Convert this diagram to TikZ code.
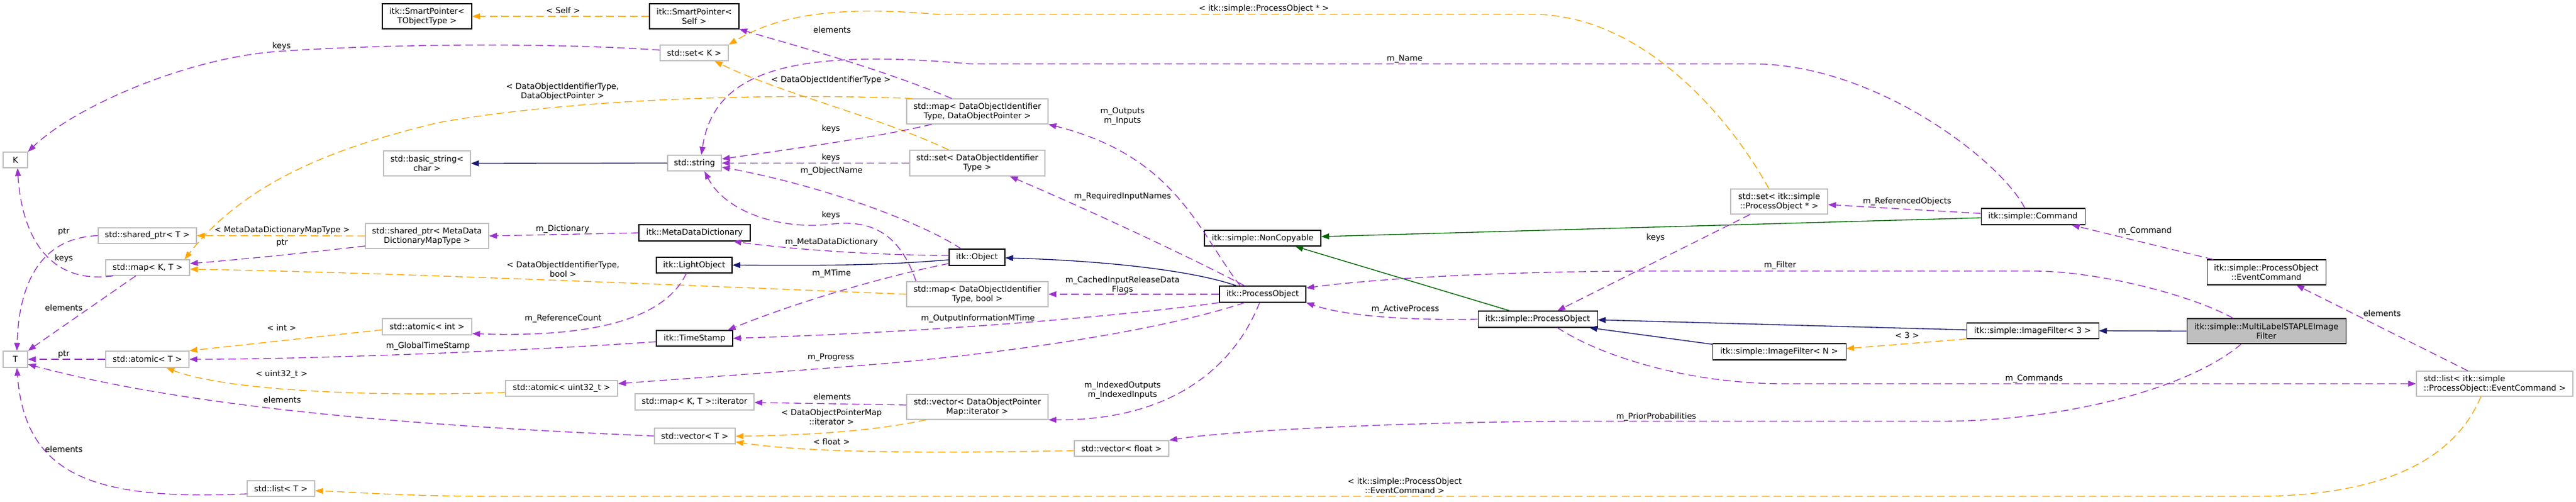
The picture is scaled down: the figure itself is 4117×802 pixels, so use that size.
\documentclass[tikz,border=0pt]{standalone}
\usepackage{fontspec}
\setmainfont{DejaVu Sans}
\usetikzlibrary{arrows.meta,calc}
\definecolor{epurple}{HTML}{9A32CD}
\definecolor{eorange}{HTML}{FFA500}
\definecolor{enavy}{HTML}{191970}
\definecolor{egreen}{HTML}{006400}
\definecolor{gborder}{HTML}{BFBFBF}
\definecolor{mlfill}{HTML}{BFBFBF}
\newcommand\ubox[7]{\node[#1, minimum width={(#5-#3)*0.75pt}, minimum height={(#6-#4)*0.75pt}] (#2) at ({(#3+#5)/2},{(#4+#6)/2}) {#7};}
\tikzset{
  cls/.style={draw=black, line width=0.8pt, fill=white, inner sep=0pt, align=center},
  ext/.style={draw=gborder, line width=1pt, fill=white, inner sep=0pt, align=center},
  tip/.style={-{Triangle[length=9.5pt,width=7pt]}},
  pe/.style={draw=epurple, line width=1pt, dash pattern=on 9pt off 5pt, tip},
  oe/.style={draw=eorange, line width=1pt, dash pattern=on 9pt off 5pt, tip},
  ne/.style={draw=enavy, line width=1pt, tip},
  ge/.style={draw=egreen, line width=1pt, tip},
  lbl/.style={inner sep=0pt, align=center}
}
\begin{document}
\begin{tikzpicture}[x=0.75pt, y=-0.75pt, font=\fontsize{9.7}{11.25}\selectfont]
\fill[white] (0,0) rectangle (4117,802);
\useasboundingbox (0,0) rectangle (4117,802);
% nodes
\ubox{ext}{K}{5}{243}{44}{268}{K}
\ubox{ext}{T}{5}{561}{44}{587}{T}
\ubox{ext}{sharedT}{157}{364}{314}{389}{std::shared\_ptr< T >}
\ubox{ext}{mapKT}{169}{415}{303}{440}{std::map< K, T >}
\ubox{ext}{atomicT}{169}{561}{302}{587}{std::atomic< T >}
\ubox{ext}{listT}{395}{768}{503}{793}{std::list< T >}
\ubox{cls}{spTObj}{611}{6}{754}{46}{itk::SmartPointer<\\TObjectType >}
\ubox{ext}{basicstr}{613}{241}{752}{281}{std::basic\_string<\\char >}
\ubox{ext}{sharedMDD}{584}{357}{781}{397}{std::shared\_ptr< MetaData\\DictionaryMapType >}
\ubox{ext}{atomicInt}{611}{509}{754}{535}{std::atomic< int >}
\ubox{cls}{spSelf}{1038}{6}{1181}{46}{itk::SmartPointer<\\Self >}
\ubox{ext}{setK}{1055}{72}{1164}{97}{std::set< K >}
\ubox{ext}{string}{1067}{248}{1153}{273}{std::string}
\ubox{cls}{MDD}{1021}{359}{1199}{385}{itk::MetaDataDictionary}
\ubox{cls}{Light}{1049}{411}{1170}{436}{itk::LightObject}
\ubox{cls}{TimeStamp}{1049}{528}{1171}{553}{itk::TimeStamp}
\ubox{ext}{atomicU32}{808}{608}{987}{633}{std::atomic< uint32\_t >}
\ubox{ext}{mapIter}{1015}{629}{1205}{655}{std::map< K, T >::iterator}
\ubox{ext}{vectorT}{1046}{684}{1175}{709}{std::vector< T >}
\ubox{ext}{mapDOP}{1449}{158}{1675}{198}{std::map< DataObjectIdentifier\\Type, DataObjectPointer >}
\ubox{ext}{setDOI}{1454}{240}{1670}{281}{std::set< DataObjectIdentifier\\Type >}
\ubox{cls}{NonCopy}{1925}{368}{2111}{393}{itk::simple::NonCopyable}
\ubox{cls}{Object}{1517}{398}{1606}{424}{itk::Object}
\ubox{ext}{mapDOB}{1449}{450}{1675}{490}{std::map< DataObjectIdentifier\\Type, bool >}
\ubox{cls}{PO}{1949}{457}{2087}{483}{itk::ProcessObject}
\ubox{ext}{vecDOPM}{1449}{630}{1675}{670}{std::vector< DataObjectPointer\\Map::iterator >}
\ubox{ext}{vecFloat}{1717}{704}{1868}{729}{std::vector< float >}
\ubox{ext}{setPO}{2766}{302}{2921}{342}{std::set< itk::simple\\::ProcessObject * >}
\ubox{cls}{sPO}{2362}{497}{2553}{523}{itk::simple::ProcessObject}
\ubox{cls}{IFN}{2737}{549}{2950}{575}{itk::simple::ImageFilter< N >}
\ubox{cls}{Command}{3166}{333}{3332}{359}{itk::simple::Command}
\ubox{cls}{IF3}{3143}{516}{3354}{541}{itk::simple::ImageFilter< 3 >}
\ubox{cls}{EC}{3527}{415}{3717}{455}{itk::simple::ProcessObject\\::EventCommand}
\ubox{cls,fill=mlfill}{ML}{3495}{509}{3749}{549}{itk::simple::MultiLabelSTAPLEImage\\Filter}
\ubox{ext,align=left}{listEC}{3862}{593}{4112}{633}{std::list< itk::simple\\::ProcessObject::EventCommand >}
% edges
\draw[pe] (setK.west |- 0,80) .. controls (880,68) and (620,70) .. (446,82) .. controls (300,92) and (120,170) .. (K.north east);
\draw[pe] (mapKT.south -| 181,0) .. controls (80,455) and (35,380) .. (K.south -| 28,0);
\draw[pe] (mapKT.south -| 217,0) -- (T.north east);
\draw[pe] (sharedT.west) .. controls (60,380) and (30,460) .. (T.north -| 27,0);
\draw[pe] (atomicT.west) -- (T.east);
\draw[pe] (vectorT.west) .. controls (650,680) and (300,650) .. (T.east |- 0,582);
\draw[pe] (listT.west |- 0,789) .. controls (150,800) and (40,760) .. (T.south -| 27,0);
\draw[oe] (sharedMDD.west) -- (sharedT.east);
\draw[pe] (MDD.west) -- (sharedMDD.east);
\draw[pe] (sharedMDD.west |- 0,393) .. controls (480,405) and (380,415) .. (mapKT.east |- 0,421);
\draw[ne] (string.west) -- (basicstr.east);
\draw[oe] (mapDOP.north -| 1458,0) .. controls (1200,148) and (900,160) .. (700,196) .. controls (560,230) and (400,280) .. (mapKT.north -| 295,0);
\draw[oe] (mapDOB.west) .. controls (1000,452) and (600,435) .. (mapKT.east |- 0,430);
\draw[oe] (atomicInt.west |- 0,527) -- (atomicT.north east);
\draw[pe] (TimeStamp.west |- 0,546) .. controls (850,560) and (500,574) .. (atomicT.east);
\draw[pe] (Light.south -| 1097,0) .. controls (1065,505) and (960,540) .. (atomicInt.east |- 0,533);
\draw[oe] (atomicU32.west |- 0,627) .. controls (550,635) and (350,620) .. (atomicT.south -| 266,0);
\draw[oe] (vecDOPM.south -| 1480,0) .. controls (1400,688) and (1300,695) .. (vectorT.east |- 0,697);
\draw[oe] (vecFloat.west |- 0,720) .. controls (1450,725) and (1280,722) .. (vectorT.east |- 0,706);
\draw[pe] (vecDOPM.west |- 0,647) -- (mapIter.east |- 0,643);
\draw[oe] (setDOI.north -| 1516,0) .. controls (1400,185) and (1250,150) .. (setK.south -| 1142,0);
\draw[pe] (setDOI.west) -- (string.east);
\draw[pe] (mapDOP.south -| 1489,0) .. controls (1400,220) and (1250,240) .. (string.east |- 0,254);
\draw[pe] (mapDOP.north -| 1521,0) .. controls (1400,107) and (1260,70) .. (spSelf.south east);
\draw[oe] (spSelf.west) -- (spTObj.east);
\draw[pe] (mapDOB.north -| 1464,0) .. controls (1440,380) and (1400,350) .. (1330,358) .. controls (1250,368) and (1160,340) .. (string.south -| 1126,0);
\draw[pe] (Object.north -| 1536,0) .. controls (1480,360) and (1330,300) .. (string.east |- 0,267);
\draw[pe] (Object.west |- 0,408) .. controls (1400,408) and (1260,398) .. (MDD.south -| 1172,0);
\draw[ne] (Object.west |- 0,415) .. controls (1400,425) and (1300,424) .. (Light.east);
\draw[pe] (Object.west |- 0,421) .. controls (1420,440) and (1280,480) .. (TimeStamp.north -| 1163,0);
\draw[ne] (PO.north -| 1976,0) .. controls (1900,430) and (1750,416) .. (Object.east |- 0,412);
\draw[pe] (PO.west) -- (mapDOB.east);
\draw[pe] (PO.south west) .. controls (1750,510) and (1450,532) .. (TimeStamp.east);
\draw[pe] (PO.south -| 1989,0) .. controls (1850,530) and (1600,565) .. (1400,582) .. controls (1200,598) and (1050,608) .. (atomicU32.east |- 0,613);
\draw[pe] (PO.south -| 2013,0) .. controls (1975,580) and (1880,672) .. (vecDOPM.south east);
\draw[pe] (PO.north -| 1989,0) .. controls (1900,410) and (1750,340) .. (setDOI.south -| 1614,0);
\draw[pe] (PO.north -| 1982,0) .. controls (1915,370) and (1880,250) .. (mapDOP.south east);
\draw[pe] (sPO.west) .. controls (2250,512) and (2150,505) .. (PO.south east);
\draw[ge] (sPO.north -| 2413,0) -- (NonCopy.south -| 2070,0);
\draw[ge] (Command.west |- 0,348) -- (NonCopy.east |- 0,378);
\draw[pe] (Command.west |- 0,341) -- (setPO.east |- 0,327);
\draw[pe] (Command.north -| 3236,0) .. controls (3200,260) and (3000,102) .. (2800,102) -- (1550,102) .. controls (1250,75) and (1140,120) .. (string.north -| 1121,0);
\draw[oe] (setPO.north -| 2827,0) .. controls (2760,180) and (2620,23) .. (2450,23) -- (1500,23) .. controls (1350,10) and (1250,20) .. (setK.north east);
\draw[pe] (setPO.south -| 2797,0) -- (sPO.north -| 2489,0);
\draw[ne] (IFN.west |- 0,550) -- (sPO.south -| 2540,0);
\draw[ne] (IF3.west |- 0,527) -- (sPO.east |- 0,511);
\draw[oe] (IF3.south west) -- (IFN.east |- 0,557);
\draw[ne] (ML.west) -- (IF3.east);
\draw[pe] (ML.north -| 3569,0) .. controls (3500,470) and (3350,433) .. (3250,433) -- (2650,433) .. controls (2400,433) and (2200,445) .. (PO.east |- 0,460);
\draw[pe] (EC.north -| 3537,0) -- (Command.south -| 3311,0);
\draw[pe] (listEC.north -| 3944,0) -- (EC.south -| 3670,0);
\draw[pe] (sPO.south -| 2489,0) .. controls (2560,570) and (2700,613) .. (2850,613) -- (listEC.west);
\draw[pe] (ML.south -| 3582,0) .. controls (3500,620) and (3300,673) .. (3100,673) -- (2500,673) .. controls (2200,675) and (1950,690) .. (vecFloat.north east);
\draw[oe] (listEC.south -| 3965,0) .. controls (3920,740) and (3800,793) .. (3600,793) -- (800,793) .. controls (650,793) and (560,786) .. (listT.east |- 0,784);
% labels
\node[lbl] (l1) at (450,74) {keys};
\node[lbl] (l2) at (102,413) {keys};
\node[lbl] (l3) at (102,492) {elements};
\node[lbl] (l4) at (102,370) {ptr};
\node[lbl] (l5) at (102,566) {ptr};
\node[lbl] (l6) at (451,639) {elements};
\node[lbl] (l7) at (102,718) {elements};
\node[lbl] (l8) at (451,368) {< MetaDataDictionaryMapType >};
\node[lbl] (l9) at (899,366) {m\_Dictionary};
\node[lbl] (l10) at (451,388) {ptr};
\node[lbl] (l11) at (899,146) {< DataObjectIdentifierType,\\DataObjectPointer >};
\node[lbl] (l12) at (900,430) {< DataObjectIdentifierType,\\bool >};
\node[lbl] (l13) at (450,524) {< int >};
\node[lbl] (l14) at (684,553) {m\_GlobalTimeStamp};
\node[lbl] (l15) at (900,509) {m\_ReferenceCount};
\node[lbl] (l16) at (450,598) {< uint32\_t >};
\node[lbl] (l17) at (1329,666) {< DataObjectPointerMap\\::iterator >};
\node[lbl] (l18) at (1329,706) {< float >};
\node[lbl] (l19) at (1330,634) {elements};
\node[lbl] (l20) at (1328,128) {< DataObjectIdentifierType >};
\node[lbl] (l21) at (1328,252) {keys};
\node[lbl] (l22) at (1328,206) {keys};
\node[lbl] (l23) at (1330,48) {elements};
\node[lbl] (l24) at (900,17) {< Self >};
\node[lbl] (l25) at (1328,344) {keys};
\node[lbl] (l26) at (1329,273) {m\_ObjectName};
\node[lbl] (l27) at (1329,387) {m\_MetaDataDictionary};
\node[lbl] (l28) at (1329,437) {m\_MTime};
\node[lbl] (l29) at (1794,455) {m\_CachedInputReleaseData\\Flags};
\node[lbl] (l30) at (1563,509) {m\_OutputInformationMTime};
\node[lbl] (l31) at (1328,571) {m\_Progress};
\node[lbl] (l32) at (1794,624) {m\_IndexedOutputs\\m\_IndexedInputs};
\node[lbl] (l33) at (1794,314) {m\_RequiredInputNames};
\node[lbl] (l34) at (1794,186) {m\_Outputs\\m\_Inputs};
\node[lbl] (l35) at (2246,494) {m\_ActiveProcess};
\node[lbl] (l36) at (3048,322) {m\_ReferencedObjects};
\node[lbl] (l37) at (2245,94) {m\_Name};
\node[lbl] (l38) at (2020,14) {< itk::simple::ProcessObject * >};
\node[lbl] (l39) at (2646,380) {keys};
\node[lbl] (l40) at (3048,536) {< 3 >};
\node[lbl] (l41) at (2845,424) {m\_Filter};
\node[lbl] (l42) at (3428,369) {m\_Command};
\node[lbl] (l43) at (3807,501) {elements};
\node[lbl] (l44) at (3251,605) {m\_Commands};
\node[lbl] (l45) at (2647,666) {m\_PriorProbabilities};
\node[lbl] (l46) at (2245,776) {< itk::simple::ProcessObject\\::EventCommand >};
\end{tikzpicture}
\end{document}
